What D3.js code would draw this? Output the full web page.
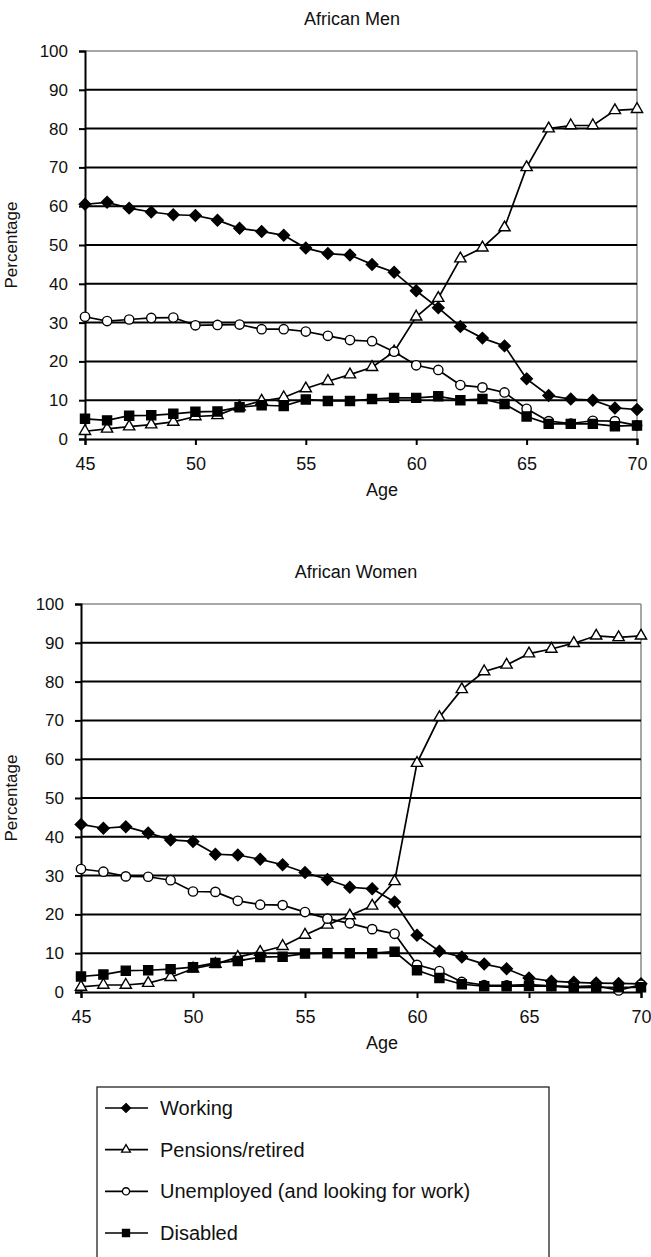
<!DOCTYPE html>
<html>
<head>
<meta charset="utf-8">
<script src="https://cdn.jsdelivr.net/npm/d3@7"></script>
<style>
  html, body { margin: 0; padding: 0; background: #fff; }
  svg { display: block; }
  text { font-family: "Liberation Sans", Arial, Helvetica, sans-serif; fill: #111; }
</style>
</head>
<body>
<svg id="chart" width="651" height="1257"></svg>
<script>
// ---------- data ----------
const ages = [45,46,47,48,49,50,51,52,53,54,55,56,57,58,59,60,61,62,63,64,65,66,67,68,69,70];
const xTicks = [45,50,55,60,65,70];
const yTicks = [0,10,20,30,40,50,60,70,80,90,100];
const seriesNames = ["Working", "Pensions/retired", "Unemployed (and looking for work)", "Disabled"];

const menWorking    = [60.5,61,59.5,58.5,57.8,57.6,56.4,54.3,53.5,52.5,49.2,47.8,47.4,45,43,38.2,33.8,29,26,24,15.5,11.2,10.3,10,8,7.6];
const menPensions   = [2,2.6,3.2,3.7,4.4,5.8,6.1,8.3,9.8,10.7,13,14.9,16.6,18.5,22.5,31.5,36.3,46.5,49.3,54.5,70,80,80.8,80.8,84.7,85];
const menUnemployed = [31.5,30.4,30.8,31.2,31.3,29.3,29.4,29.5,28.3,28.3,27.7,26.6,25.5,25.2,22.5,19,17.8,13.9,13.3,12,7.8,4.6,4,4.7,4.6,3.5];
const menDisabled   = [5.2,4.8,6,6.1,6.5,7,7.1,8.2,8.7,8.5,10.2,9.8,9.8,10.3,10.6,10.6,11,10,10.3,9,5.8,3.9,3.9,3.9,3.3,3.5];

const womenWorking    = [43.2,42.2,42.6,41,39.2,38.8,35.5,35.3,34.2,32.8,30.8,29,27,26.6,23.2,14.6,10.5,9,7.2,6,3.6,2.8,2.5,2.3,2.2,2.1];
const womenPensions   = [1.3,1.8,1.8,2.3,3.8,6,7.2,9,10.3,11.8,14.7,17.3,19.7,22.2,28.5,59,70.8,78,82.6,84.3,87.2,88.4,89.9,91.8,91.4,91.8];
const womenUnemployed = [31.7,31,29.8,29.7,28.8,25.9,25.8,23.5,22.5,22.4,20.6,18.9,17.7,16.2,15,7,5.4,2.6,1.8,1.7,1.9,1.6,1.4,1.6,0.4,1.9];
const womenDisabled   = [4,4.5,5.5,5.6,5.9,6.4,7.5,8,9,9.1,9.9,10,10,10,10.4,5.6,3.6,2,1.5,1.5,1.6,1.5,1.1,1.2,1.2,1.2];

// ---------- styles ----------
const symbolWideDiamond = {
  draw(ctx, size) {
    const r = Math.sqrt(size / 2);
    ctx.moveTo(0, -r); ctx.lineTo(r, 0); ctx.lineTo(0, r); ctx.lineTo(-r, 0); ctx.closePath();
  }
};
const markers = [
  {type: symbolWideDiamond, size: 66, fill: "#000"},
  {type: d3.symbolTriangle, size: 55, fill: "#fff"},
  {type: d3.symbolCircle, size: 68, fill: "#fff"},
  {type: d3.symbolSquare, size: 82, fill: "#000"}
];

const svg = d3.select("#chart");

function drawPanel(cfg) {
  const x = d3.scaleLinear().domain([45, 70]).range([cfg.x0, cfg.x1]);
  const y = d3.scaleLinear().domain([0, 100]).range([cfg.y0, cfg.y1]);
  const g = svg.append("g");

  // title
  g.append("text").attr("x", cfg.titleX).attr("y", cfg.y1 - 26)
    .attr("text-anchor", "middle").attr("font-size", 18).text(cfg.title);

  // plot area border (grey top & right)
  g.append("line").attr("x1", cfg.x0).attr("x2", cfg.x1).attr("y1", y(100)).attr("y2", y(100))
    .attr("stroke", "#8a8a8a").attr("stroke-width", 1.5);
  g.append("line").attr("x1", cfg.x1).attr("x2", cfg.x1).attr("y1", y(100)).attr("y2", y(0))
    .attr("stroke", "#8a8a8a").attr("stroke-width", 1.5);

  // gridlines
  g.append("g").selectAll("line").data(yTicks.filter(t => t > 0 && t < 100)).join("line")
    .attr("x1", cfg.x0).attr("x2", cfg.x1)
    .attr("y1", d => y(d)).attr("y2", d => y(d))
    .attr("stroke", "#000").attr("stroke-width", 2);

  // y axis
  const yAxis = g.append("g").attr("transform", `translate(${cfg.x0},0)`)
    .call(d3.axisLeft(y).tickValues(yTicks).tickSize(6).tickPadding(11));
  yAxis.select(".domain").attr("stroke", "#000").attr("stroke-width", 2);
  yAxis.selectAll(".tick line").attr("stroke", "#000").attr("stroke-width", 2);
  yAxis.selectAll(".tick text").attr("font-size", 17).attr("fill", "#111")
    .attr("font-family", '"Liberation Sans", Arial, sans-serif');

  // x axis
  const xAxis = g.append("g").attr("transform", `translate(0,${cfg.y0})`)
    .call(d3.axisBottom(x).tickValues(xTicks).tickSize(6).tickPadding(12));
  xAxis.select(".domain").attr("stroke", "#000").attr("stroke-width", 2);
  xAxis.selectAll(".tick line").attr("stroke", "#000").attr("stroke-width", 2);
  xAxis.selectAll(".tick text").attr("font-size", 18).attr("fill", "#111")
    .attr("font-family", '"Liberation Sans", Arial, sans-serif');

  // axis titles
  g.append("text").attr("x", cfg.ageX).attr("y", cfg.y0 + 57)
    .attr("text-anchor", "middle").attr("font-size", 18).text("Age");
  g.append("text")
    .attr("transform", `translate(17,${(cfg.y0 + cfg.y1) / 2}) rotate(-90)`)
    .attr("text-anchor", "middle").attr("font-size", 17).text("Percentage");

  // series
  const line = d3.line().x((d, i) => x(ages[i])).y(d => y(d));
  cfg.series.forEach((vals, si) => {
    g.append("path").datum(vals).attr("d", line)
      .attr("fill", "none").attr("stroke", "#000").attr("stroke-width", 1.7);
    const m = markers[si];
    g.append("g").selectAll("path").data(vals).join("path")
      .attr("transform", (d, i) => `translate(${x(ages[i])},${y(d)})`)
      .attr("d", d3.symbol().type(m.type).size(m.size))
      .attr("fill", m.fill).attr("stroke", "#000").attr("stroke-width", 1.4);
  });
}

drawPanel({
  title: "African Men", titleX: 352, ageX: 382,
  x0: 85, x1: 637, y0: 439, y1: 51,
  series: [menWorking, menPensions, menUnemployed, menDisabled]
});
drawPanel({
  title: "African Women", titleX: 356, ageX: 382,
  x0: 81, x1: 641, y0: 992, y1: 604,
  series: [womenWorking, womenPensions, womenUnemployed, womenDisabled]
});

// ---------- legend ----------
const lg = svg.append("g");
lg.append("rect").attr("x", 97).attr("y", 1087).attr("width", 452).attr("height", 180)
  .attr("fill", "#fff").attr("stroke", "#222").attr("stroke-width", 1.3);
const rowY = d3.scalePoint().domain(seriesNames).range([1108, 1233]);
seriesNames.forEach((name, i) => {
  const yy = rowY(name);
  lg.append("line").attr("x1", 105).attr("x2", 148).attr("y1", yy).attr("y2", yy)
    .attr("stroke", "#000").attr("stroke-width", 1.7);
  const m = markers[i];
  lg.append("path").attr("transform", `translate(126,${yy})`)
    .attr("d", d3.symbol().type(m.type).size(m.size * 0.6))
    .attr("fill", m.fill).attr("stroke", "#000").attr("stroke-width", 1.3);
  lg.append("text").attr("x", 160).attr("y", yy + 7).attr("font-size", 20).text(name);
});
</script>
</body>
</html>
